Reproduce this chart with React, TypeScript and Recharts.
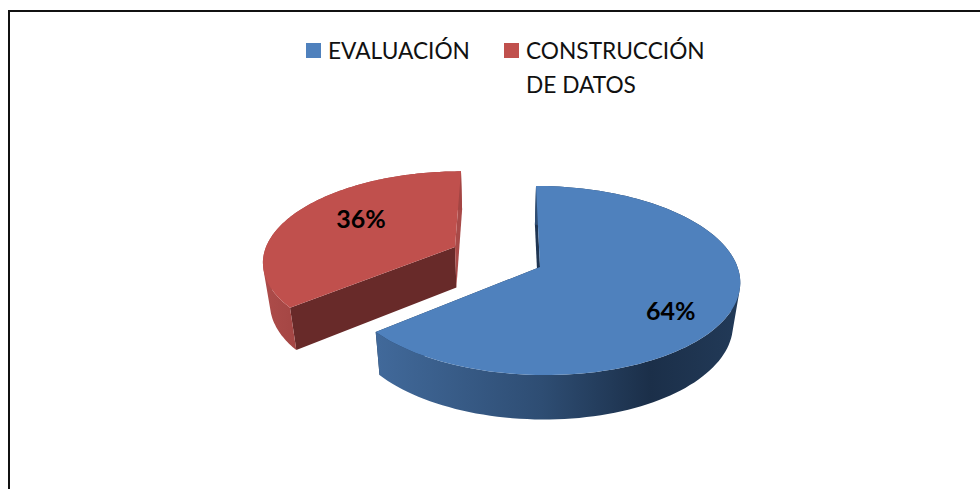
import React from 'react';
import { PieChart, Pie, Legend } from 'recharts';

const categories = ['EVALUACIÓN', 'CONSTRUCCIÓN DE DATOS'];
const shares = [64, 36];
const topColors = ['#4f81bd', '#c0504d'];

// Fake 3D: each slice gets its own exploded apex and a perspective projection.
const sliceViews = [
  { dx: 40, dy: 10, rx: 1.975, ry: 0.926, shear: 0.049, cutFills: ['#1f3552', '#1f3552'], labelRadius: 0.75, labelAngle: 125.4 },
  { dx: -45, dy: -10, rx: 1.89, ry: 0.865, shear: -0.079, cutFills: ['#682a29', '#a84a48'], labelRadius: 0.638, labelAngle: 303 },
];
const PERSPECTIVE = 0.143;
const CENTER_X = 500;
const CENTER_Y = 257;
const RADIUS = 100;

const data = categories.map((name, i) => ({ name, value: shares[i], fill: topColors[i] }));

type Pt = [number, number];

const project = (index: number, theta: number, radius: number): Pt => {
  const view = sliceViews[index];
  const rad = (theta * Math.PI) / 180;
  const u = Math.sin(rad) * radius;
  const v = -Math.cos(rad) * radius;
  const scale = 1 / (1 - PERSPECTIVE * v);
  const y = view.ry * RADIUS * v * scale;
  const x = view.rx * RADIUS * u * scale + view.shear * y;
  return [CENTER_X + view.dx + x, CENTER_Y + view.dy + y];
};

// same point on the underside of the pie
const lower = ([x, y]: Pt): Pt => [CENTER_X + (x - CENTER_X) * 0.97, y + 41 + (y - 260) * 0.03];

const toPath = (pts: Pt[]) =>
  'M' + pts.map(([x, y]) => `${x.toFixed(1)},${y.toFixed(1)}`).join('L') + 'Z';

// all quads wound the same way, so nonzero fill gives a clean union with no seams
const sameWinding = (pts: Pt[]) => {
  let area = 0;
  pts.forEach(([x, y], i) => {
    const [nx, ny] = pts[(i + 1) % pts.length];
    area += x * ny - nx * y;
  });
  return area < 0 ? [...pts].reverse() : pts;
};

const Slice3D = (props: any) => {
  const { startAngle, endAngle, fill, index } = props;
  const from = 90 - startAngle;
  const to = 90 - endAngle;
  const arc: Pt[] = [];
  const steps = 120;
  for (let i = 0; i <= steps; i++) {
    arc.push(project(index, from + ((to - from) * i) / steps, 1));
  }
  const apex = project(index, from, 0);
  const first = arc[0];
  const last = arc[arc.length - 1];
  const view = sliceViews[index];
  const wallFill = index === 0 ? 'url(#blueWall)' : 'url(#redWall)';
  const wall = arc
    .slice(1)
    .map((p, i) => toPath(sameWinding([arc[i], p, lower(p), lower(arc[i])])))
    .join('');
  return (
    <g>
      <defs>
        <linearGradient id="blueWall" gradientUnits="userSpaceOnUse" x1="378" y1="0" x2="741" y2="0">
          <stop offset="0" stopColor="#41699a" />
          <stop offset="0.45" stopColor="#2e4d73" />
          <stop offset="0.75" stopColor="#1b2f49" />
          <stop offset="1" stopColor="#223a58" />
        </linearGradient>
        <linearGradient id="redWall" gradientUnits="userSpaceOnUse" x1="263" y1="0" x2="300" y2="0">
          <stop offset="0" stopColor="#ad4c4a" />
          <stop offset="1" stopColor="#a34543" />
        </linearGradient>
      </defs>
      <path d={toPath([apex, first, lower(first), lower(apex)])} fill={view.cutFills[0]} />
      <path d={toPath([apex, last, lower(last), lower(apex)])} fill={view.cutFills[1]} />
      <path d={wall} fill={wallFill} fillRule="nonzero" />
      <path d={toPath([apex, ...arc])} fill={fill} />
    </g>
  );
};

const renderLabel = (props: any) => {
  const { index, percent } = props;
  const view = sliceViews[index];
  const [x, y] = project(index, view.labelAngle, view.labelRadius);
  return (
    <text
      x={x}
      y={y}
      textAnchor="middle"
      dominantBaseline="central"
      fontFamily="Lato, sans-serif"
      fontWeight={700}
      fontSize={25}
      fill="#000"
    >
      {`${Math.round(percent * 100)}%`}
    </text>
  );
};

const LegendRow = () => (
  <div style={{ display: 'flex', fontFamily: 'Lato, sans-serif', fontSize: 22.7, lineHeight: '34px', color: '#111' }}>
    {categories.map((name, i) => (
      <div key={name} style={{ display: 'flex', marginRight: i === 0 ? 33 : 0 }}>
        <span
          style={{ width: 15, height: 15, marginTop: 9, marginRight: 7, background: topColors[i], flex: 'none' }}
        />
        <span style={{ width: i === 0 ? 143 : 185 }}>{name}</span>
      </div>
    ))}
  </div>
);

export default function App() {
  return (
    <div style={{ position: 'absolute', left: 0, top: 0, width: 980, height: 489, background: '#fff', overflow: 'hidden' }}>
      <div
        style={{
          position: 'absolute',
          left: 8,
          top: 10,
          width: 972,
          height: 479,
          boxSizing: 'border-box',
          borderTop: '2px solid #111',
          borderLeft: '2px solid #111',
        }}
      />
      <PieChart width={980} height={489} style={{ position: 'absolute', left: 0, top: 0 }}>
        <Legend content={<LegendRow />} wrapperStyle={{ left: 306, top: 34, width: 420, bottom: 'auto' }} />
        <Pie
          data={data}
          dataKey="value"
          nameKey="name"
          cx={CENTER_X}
          cy={CENTER_Y}
          outerRadius={RADIUS}
          startAngle={90}
          endAngle={-270}
          stroke="none"
          shape={Slice3D}
          label={renderLabel}
          labelLine={false}
          isAnimationActive={false}
        />
      </PieChart>
    </div>
  );
}
